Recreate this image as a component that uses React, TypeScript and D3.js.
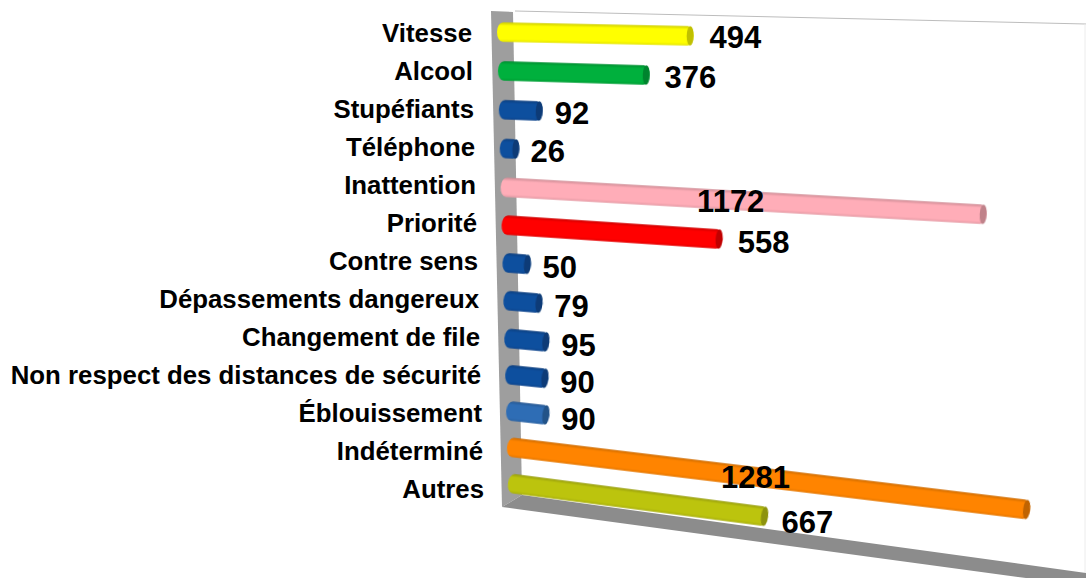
import React from "react";
import * as d3 from "d3";

const categories = [
  "Vitesse", "Alcool", "Stupéfiants", "Téléphone", "Inattention", "Priorité", "Contre sens",
  "Dépassements dangereux", "Changement de file", "Non respect des distances de sécurité",
  "Éblouissement", "Indéterminé", "Autres",
];
const values = [494, 376, 92, 26, 1172, 558, 50, 79, 95, 90, 90, 1281, 667];
const colors = [
  "#ffff00", "#00b03c", "#0f4f9e", "#0f4f9e", "#ffadb8", "#ff0000", "#0f4f9e",
  "#0f4f9e", "#0f4f9e", "#0f4f9e", "#2f6db5", "#ff8400", "#bcc40c",
];
// these two labels sit on top of their bars in the original
const insideLabels = ["Inattention", "Indéterminé"];

const width = 1086;
const height = 578;
const rows = d3.range(categories.length);
const last = rows.length - 1;

// the picture is a skewed 3d chart, so each row gets its own start, height and tilt
const startX = d3.scaleLinear([0, last], [497, 508]);
const rowY = d3.scaleLinear([0, 4, 8, last], [32, 187, 338, 483]);
const tilt = d3.scaleLinear([0, last], [0.02, 0.13]);
const labelRight = d3.scaleLinear([0, last], [472, 484]);
const labelY = d3.scaleLinear([0, last], [33, 489]);
const barLength = d3.scaleLinear([0, 95, 558, 667, 1172, 1281], [10, 45, 221, 260, 486, 523]);
const labelGap = d3.scaleLinear([0, 500, 700], [11, 16, 13]).clamp(true);

const barHeight = 19.5;

export default function App() {
  return (
    <svg
      width={width}
      height={height}
      viewBox={`0 0 ${width} ${height}`}
      style={{ position: "fixed", left: 0, top: 0, background: "#fff" }}
      fontFamily="Liberation Sans, Arial, sans-serif"
    >
      <defs>
        <filter id="soft" x="-5%" y="-20%" width="110%" height="140%">
          <feGaussianBlur stdDeviation="0.6" />
        </filter>
        {rows.map((i) => {
          const base = d3.color(colors[i])!;
          return (
            <linearGradient key={i} id={`bar-${i}`} x1="0" y1="0" x2="0" y2="1">
              <stop offset="0%" stopColor={base.darker(0.6).formatHex()} />
              <stop offset="18%" stopColor={base.formatHex()} />
              <stop offset="85%" stopColor={base.formatHex()} />
              <stop offset="100%" stopColor={base.darker(0.3).formatHex()} />
            </linearGradient>
          );
        })}
      </defs>

      {/* walls */}
      <path d="M515,11 L1086,24" stroke="#bdbdbd" strokeWidth={1} fill="none" />
      <path d="M1085,24 L1085,573" stroke="#ececec" strokeWidth={1} fill="none" />
      <path d="M491,11 L513,12 L522,495 L502,507 Z" fill="#9e9e9e" />
      <path d="M502,507 L522,495 L1086,573 L1086,578 L1026,578 Z" fill="#8c8c8c" />

      {rows.map((i) => {
        const len = barLength(values[i]) * Math.hypot(1, tilt(i));
        const angle = (Math.atan(tilt(i)) * 180) / Math.PI;
        return (
          <g
            key={categories[i]}
            transform={`translate(${startX(i)},${rowY(i)}) rotate(${angle})`}
            filter="url(#soft)"
          >
            <rect
              x={0}
              y={-barHeight / 2}
              width={len}
              height={barHeight}
              rx={6}
              ry={barHeight / 2}
              fill={`url(#bar-${i})`}
            />
            <ellipse
              cx={len - 3.5}
              cy={0}
              rx={3.5}
              ry={barHeight / 2}
              fill={d3.color(colors[i])!.darker(0.8).formatHex()}
            />
          </g>
        );
      })}

      {rows.map((i) => (
        <text
          key={categories[i]}
          x={labelRight(i)}
          y={labelY(i)}
          textAnchor="end"
          dominantBaseline="central"
          fontSize={25.8}
          fontWeight="bold"
          fill="#000"
        >
          {categories[i]}
        </text>
      ))}

      {rows.map((i) => {
        const len = barLength(values[i]);
        const inside = insideLabels.includes(categories[i]);
        const labelWidth = String(values[i]).length * 17.2;
        const dx = inside ? len * 0.475 - labelWidth / 2 : len + labelGap(values[i]);
        const dy = tilt(i) * (dx + labelWidth / 2);
        return (
          <text
            key={categories[i]}
            x={startX(i) + dx}
            y={rowY(i) + dy + 1}
            dominantBaseline="central"
            fontSize={31}
            fontWeight="bold"
            fill="#000"
          >
            {values[i]}
          </text>
        );
      })}
    </svg>
  );
}
